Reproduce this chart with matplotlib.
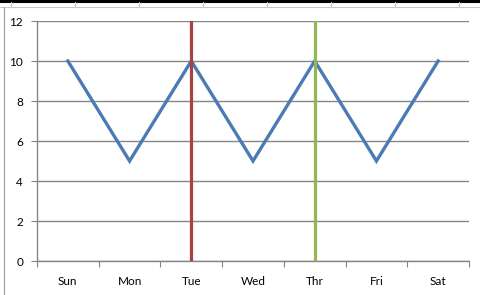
import numpy as np
from matplotlib import pyplot as plt
from matplotlib.lines import Line2D

days = ["Sun", "Mon", "Tue", "Wed", "Thr", "Fri", "Sat"]
values = [10, 5, 10, 5, 10, 5, 10]
marker_days = ["Tue", "Thr"]
marker_colors = ["#A4433F", "#92B854"]
y_ticks = [0, 2, 4, 6, 8, 10, 12]

plt.rcParams["font.family"] = ["Lato", "DejaVu Sans"]

W, H = 481, 295
fig = plt.figure(figsize=(W / 100, H / 100), dpi=100)
fig.patch.set_facecolor("white")

# spreadsheet bits around the chart
fig.add_artist(Line2D([0, 1], [1 - 1 / H, 1 - 1 / H], color="black", lw=2.2))
fig.add_artist(Line2D([0, 1], [1 - 7 / H, 1 - 7 / H], color="#C8C8C8", lw=0.8))
for cx in [11, 75, 139, 203, 267, 331, 395, 459]:
    fig.add_artist(Line2D([cx / W, cx / W], [1 - 2 / H, 1 - 7 / H], color="#C8C8C8", lw=0.8))
fig.add_artist(Line2D([3.5 / W, 3.5 / W], [0, 1 - 7 / H], color="#9A9A9A", lw=0.8))

ax = fig.add_axes([37 / W, 1 - 261 / H, (469 - 37) / W, (261 - 21) / H])
x = np.arange(len(days))

ax.plot(x, values, color="#4C7BB4", lw=2.4, solid_joinstyle="miter", zorder=3)
for d, c in zip(marker_days, marker_colors):
    ax.plot([days.index(d)] * 2, [y_ticks[0], y_ticks[-1]], color=c, lw=2.3, zorder=4)

ax.set_xlim(-0.5, len(days) - 0.5)
ax.set_ylim(y_ticks[0], y_ticks[-1])
ax.set_yticks(y_ticks)
ax.yaxis.grid(True, color="#868686", lw=1.0)
ax.set_axisbelow(True)

ax.set_xticks(np.arange(-0.5, len(days)), labels=[])
ax.set_xticks(x, labels=days, minor=True)
ax.tick_params(axis="x", which="minor", length=0, pad=11, labelsize=8.5)
ax.tick_params(axis="x", which="major", length=4, color="#868686", direction="out")
ax.tick_params(axis="y", length=4, color="#868686", pad=6, labelsize=8.5)

for s in ["top", "right"]:
    ax.spines[s].set_visible(False)
for s in ["left", "bottom"]:
    ax.spines[s].set_color("#868686")
    ax.spines[s].set_linewidth(1.0)

fig.savefig("out.png", dpi=100)
